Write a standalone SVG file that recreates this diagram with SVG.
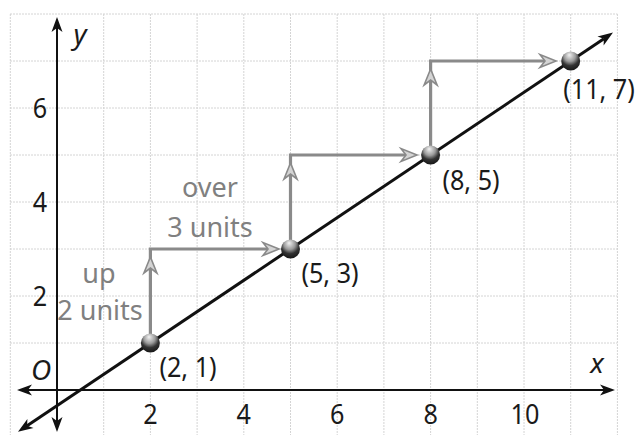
<svg xmlns="http://www.w3.org/2000/svg" xmlns:xlink="http://www.w3.org/1999/xlink" width="635" height="435" viewBox="0 0 635 435">
<style>
.grid line{stroke:#d4d4d4;stroke-width:1;stroke-dasharray:2 1}
.axis{stroke:#111;stroke-width:2;fill:none}
.main{stroke:#111;stroke-width:3;fill:none}
.step{stroke:#8a8a8a;stroke-width:3.2;fill:none}
.ahb{fill:#111}
.ahg{fill:#d4d4d4;stroke:#8a8a8a;stroke-width:1.6}
.lbl{font-family:"Noto Sans","Open Sans","DejaVu Sans",sans-serif;font-size:28px;fill:#1a1a1a;text-anchor:middle}
.it{font-style:italic}
.gl{font-family:"Noto Sans","Open Sans","DejaVu Sans",sans-serif;font-size:27px;fill:#808080;text-anchor:middle}
</style>
<defs>
<path id="ahB" d="M0,0 L-15,-5.5 L-11,0 L-15,5.5 Z"/>
<path id="ahG" d="M0,0 L-16,-6.5 L-11,0 L-16,6.5 Z"/>
<radialGradient id="ball" cx="0.5" cy="0.3" r="0.75" fx="0.42" fy="0.18">
<stop offset="0" stop-color="#f2f2f2"/>
<stop offset="0.4" stop-color="#9a9a9a"/>
<stop offset="0.65" stop-color="#333"/>
<stop offset="1" stop-color="#111"/>
</radialGradient>
</defs>
<rect width="635" height="435" fill="#fff"/>
<g class="grid">
<line x1="10.3" y1="14" x2="10.3" y2="435"/>
<line x1="103.7" y1="14" x2="103.7" y2="435"/>
<line x1="150.4" y1="14" x2="150.4" y2="435"/>
<line x1="197.1" y1="14" x2="197.1" y2="435"/>
<line x1="243.8" y1="14" x2="243.8" y2="435"/>
<line x1="290.5" y1="14" x2="290.5" y2="435"/>
<line x1="337.2" y1="14" x2="337.2" y2="435"/>
<line x1="383.9" y1="14" x2="383.9" y2="435"/>
<line x1="430.6" y1="14" x2="430.6" y2="435"/>
<line x1="477.3" y1="14" x2="477.3" y2="435"/>
<line x1="524" y1="14" x2="524" y2="435"/>
<line x1="570.7" y1="14" x2="570.7" y2="435"/>
<line x1="617.4" y1="14" x2="617.4" y2="435"/>
<line x1="10" y1="14" x2="617.4" y2="14"/>
<line x1="10" y1="61" x2="617.4" y2="61"/>
<line x1="10" y1="108" x2="617.4" y2="108"/>
<line x1="10" y1="155" x2="617.4" y2="155"/>
<line x1="10" y1="202" x2="617.4" y2="202"/>
<line x1="10" y1="249" x2="617.4" y2="249"/>
<line x1="10" y1="296" x2="617.4" y2="296"/>
<line x1="10" y1="343" x2="617.4" y2="343"/>
</g>
<g id="axes">
<line class="axis" x1="27" y1="390" x2="605" y2="390"/>
<line class="axis" x1="57" y1="27" x2="57" y2="422"/>
<use href="#ahB" class="ahb" transform="translate(615,390)"/>
<use href="#ahB" class="ahb" transform="translate(17,390) rotate(180)"/>
<use href="#ahB" class="ahb" transform="translate(57,17) rotate(-90)"/>
<use href="#ahB" class="ahb" transform="translate(57,432) rotate(90)"/>
<text class="lbl it" x="80" y="44">y</text>
<text class="lbl it" x="597" y="373">x</text>
<text class="lbl it" x="41" y="380">O</text>
<text class="lbl" transform="translate(40,118) scale(0.9,1)">6</text>
<text class="lbl" transform="translate(40,212) scale(0.9,1)">4</text>
<text class="lbl" transform="translate(40,306) scale(0.9,1)">2</text>
<text class="lbl" transform="translate(150.4,424) scale(0.9,1)">2</text>
<text class="lbl" transform="translate(243.8,424) scale(0.9,1)">4</text>
<text class="lbl" transform="translate(337.2,424) scale(0.9,1)">6</text>
<text class="lbl" transform="translate(430.6,424) scale(0.9,1)">8</text>
<text class="lbl" transform="translate(525,424) scale(0.9,1)">10</text>
</g>
<g id="connectors">
<line class="main" x1="27.1" y1="425.7" x2="603.9" y2="38.7"/>
<use href="#ahB" class="ahb" transform="translate(613,32.6) rotate(-33.86)"/>
<use href="#ahB" class="ahb" transform="translate(18,431.8) rotate(146.14)"/>
<g id="step1">
<polyline class="step" points="150.4,343 150.4,249 268,249"/>
<use href="#ahG" class="ahg" transform="translate(150.4,257) rotate(-90)"/>
<use href="#ahG" class="ahg" transform="translate(279,249)"/>
</g>
<g id="step2">
<polyline class="step" points="290.5,249 290.5,155 406,155"/>
<use href="#ahG" class="ahg" transform="translate(290.5,163) rotate(-90)"/>
<use href="#ahG" class="ahg" transform="translate(417,155)"/>
</g>
<g id="step3">
<polyline class="step" points="430.6,155 430.6,61 545,61"/>
<use href="#ahG" class="ahg" transform="translate(430.6,69) rotate(-90)"/>
<use href="#ahG" class="ahg" transform="translate(556,61)"/>
</g>
</g>
<g id="labels-steps">
<text class="gl" x="99" y="283">up</text>
<text class="gl" x="100" y="320">2 units</text>
<text class="gl" x="210" y="197">over</text>
<text class="gl" x="210" y="237">3 units</text>
</g>
<g id="p21">
<circle cx="150.4" cy="343" r="9.5" fill="url(#ball)"/>
<text class="lbl" transform="translate(188,377) scale(0.9,1)">(2, 1)</text>
</g>
<g id="p53">
<circle cx="290.5" cy="249" r="9.5" fill="url(#ball)"/>
<text class="lbl" transform="translate(330,283) scale(0.9,1)">(5, 3)</text>
</g>
<g id="p85">
<circle cx="430.6" cy="155" r="9.5" fill="url(#ball)"/>
<text class="lbl" transform="translate(471,190) scale(0.9,1)">(8, 5)</text>
</g>
<g id="p117">
<circle cx="570.7" cy="61" r="9.5" fill="url(#ball)"/>
<text class="lbl" transform="translate(599,99) scale(0.9,1)">(11, 7)</text>
</g>
</svg>
